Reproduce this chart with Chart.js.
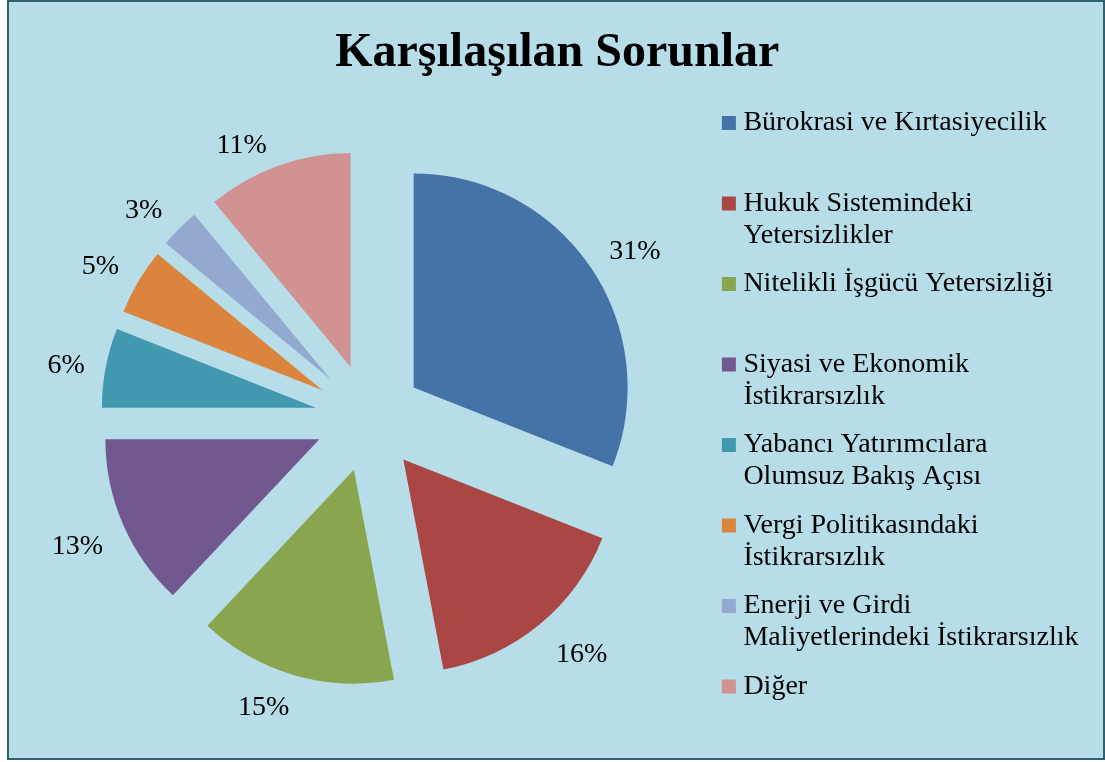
<!DOCTYPE html>
<html>
<head>
<meta charset="utf-8">
<title>Karşılaşılan Sorunlar</title>
<script src="https://cdn.jsdelivr.net/npm/chart.js@4/dist/chart.umd.min.js"></script>
<style>
    html, body { margin: 0; padding: 0; background: #ffffff; }
    #frame {
        position: absolute; left: 7px; top: 0; width: 1098px; height: 760px;
        box-sizing: border-box; border: 2px solid #31606f; background: #b7dde8;
    }
    #wrap { position: absolute; left: 0; top: 0; width: 1105px; height: 762px; }
</style>
</head>
<body>
<div id="frame"></div>
<div id="wrap"><canvas id="chart"></canvas></div>
<script>

// Data
const chartTitle = 'Karşılaşılan Sorunlar';
const categories = [
    'Bürokrasi ve Kırtasiyecilik',
    'Hukuk Sistemindeki\nYetersizlikler',
    'Nitelikli İşgücü Yetersizliği',
    'Siyasi ve Ekonomik\nİstikrarsızlık',
    'Yabancı Yatırımcılara\nOlumsuz Bakış Açısı',
    'Vergi Politikasındaki\nİstikrarsızlık',
    'Enerji ve Girdi\nMaliyetlerindeki İstikrarsızlık',
    'Diğer'
];
const shares = [31, 16, 15, 13, 6, 5, 3, 11];

// Styles
const sliceColors = ['#4572a7', '#aa4643', '#89a54e', '#71588f', '#4198af', '#db843d', '#93a9cf', '#d19392'];
const SERIF = '"Liberation Serif", "Times New Roman", serif';
const EXPLODE = 54;

const clamp = (v) => Math.max(-1, Math.min(1, v));


/**
 * Draw every slice pushed out from the centre along its mid angle
 */
const explodedPie = {
    id: 'explodedPie',
    beforeDatasetDraw(chart, args) {
        const ctx = chart.ctx;
        args.meta.data.forEach((arc) => {
            const {x, y, startAngle, endAngle, outerRadius} =
                arc.getProps(['x', 'y', 'startAngle', 'endAngle', 'outerRadius'], true);
            const mid = (startAngle + endAngle) / 2;
            const cx = x + Math.cos(mid) * EXPLODE;
            const cy = y + Math.sin(mid) * EXPLODE;
            ctx.beginPath();
            ctx.moveTo(cx, cy);
            ctx.arc(cx, cy, outerRadius, startAngle, endAngle);
            ctx.closePath();
            ctx.fillStyle = arc.options.backgroundColor;
            ctx.fill();
        });
        return false;
    }
};


/**
 * Percentage labels outside each slice
 */
const sliceLabels = {
    id: 'sliceLabels',
    afterDatasetsDraw(chart) {
        const ctx = chart.ctx;
        const meta = chart.getDatasetMeta(0);
        const total = shares.reduce((a, b) => a + b, 0);

        ctx.save();
        ctx.font = '28px ' + SERIF;
        ctx.fillStyle = '#000000';
        ctx.textAlign = 'center';
        ctx.textBaseline = 'middle';

        meta.data.forEach((arc, i) => {
            const mid = (arc.startAngle + arc.endAngle) / 2;
            const dx = Math.cos(mid), dy = Math.sin(mid);
            const reach = EXPLODE + arc.outerRadius + 13;
            const ax = arc.x + dx * reach;
            const ay = arc.y + dy * reach + 6;
            const text = Math.round(shares[i] / total * 100) + '%';
            const w = ctx.measureText(text).width;
            ctx.fillText(text, ax + clamp(dx / 0.35) * (w / 2 + 8), ay + clamp(dy / 0.5) * 14);
        });

        ctx.restore();
    }
};


new Chart(document.getElementById('chart'), {
    type: 'pie',
    data: {
        labels: categories,
        datasets: [{
            data: shares,
            backgroundColor: sliceColors,
            borderWidth: 0
        }]
    },
    options: {
        responsive: true,
        maintainAspectRatio: false,
        animation: false,
        radius: 214,
        layout: {
            padding: {left: 26, right: 16.5, top: 0, bottom: 9}
        },
        plugins: {
            title: {
                display: true,
                text: chartTitle,
                color: '#000000',
                font: {family: SERIF, size: 48, weight: 'bold'},
                padding: {top: 25, bottom: 0}
            },
            legend: {
                position: 'right',
                align: 'end',
                labels: {
                    color: '#000000',
                    font: {family: SERIF, size: 28, lineHeight: 32 / 28},
                    usePointStyle: true,
                    pointStyle: 'rect',
                    boxWidth: 1,
                    boxHeight: 14,
                    padding: 16.5,
                    generateLabels(chart) {
                        const items = Chart.overrides.pie.plugins.legend.labels.generateLabels(chart);
                        items.forEach((item) => {
                            const lines = categories[item.index].split('\n');
                            while (lines.length < 2) lines.push('');
                            item.text = lines;
                            item.pointStyle = 'rect';
                            item.lineWidth = 0;
                        });
                        return items;
                    }
                }
            },
            tooltip: {enabled: false}
        }
    },
    plugins: [explodedPie, sliceLabels]
});

</script>
</body>
</html>
